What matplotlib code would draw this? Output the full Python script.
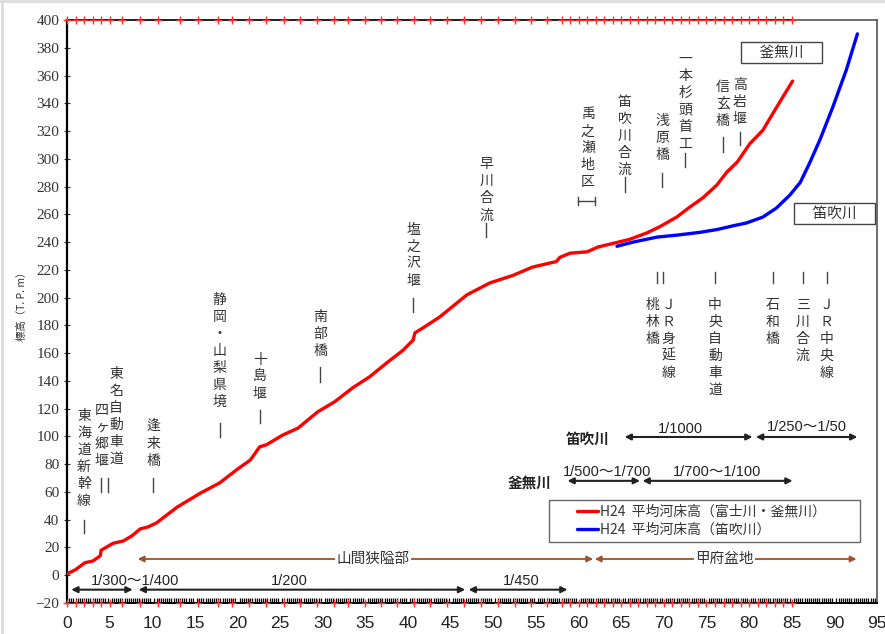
import matplotlib
matplotlib.use("Agg")
import matplotlib.pyplot as plt
from matplotlib.ticker import MultipleLocator
from matplotlib.lines import Line2D
from matplotlib.patches import Rectangle

plt.rcParams['font.family'] = ['Noto Sans CJK JP', 'DejaVu Sans']

# 平均河床高 (距離 km, 標高 T.P.m)
kamanashi_km = [0, 1.0, 2.1, 3.05, 3.9, 4.0, 5.4, 6.6, 7.6, 8.6, 9.5, 10.5, 12.9, 15.6,
                17.9, 19.9, 21.5, 22.6, 23.4, 25.3, 27.1, 29.4, 31.4, 33.5, 35.5, 37.5,
                39.4, 40.6, 40.8, 41.7, 43.7, 46.9, 49.6, 52.3, 54.6, 57.4, 57.8, 59.0,
                61.0, 62.3, 64.0, 66.0, 68.0, 69.5, 71.5, 73.0, 74.6, 76.2, 77.4, 78.6,
                80.1, 81.6, 82.8, 83.9, 85.1]
kamanashi_el = [1, 4, 9, 10.3, 14, 18, 23, 24.7, 28.3, 33.4, 34.8, 37.7, 49, 59,
                66.5, 76, 83, 92.5, 94, 101, 106, 117.7, 125, 135, 143, 153,
                162, 169.5, 174.6, 178, 186, 202, 210.6, 216, 222, 226, 229, 232,
                233, 236.5, 239, 242, 246.6, 251, 258, 265, 272, 281, 290.5, 297.6,
                311, 320.5, 332.8, 344, 356]

fuefuki_km = [64.5, 66.4, 69.2, 71.5, 74.2, 76.2, 78.1, 79.7, 81.6, 83.2, 84.8, 86.0,
              87.1, 88.3, 89.8, 91.4, 92.7]
fuefuki_el = [237, 240, 243.6, 245, 247, 249, 251.7, 253.8, 258, 264.5, 274, 283,
              297, 313.6, 337, 364, 390]

# 測点位置
survey_km = [0, 1, 2, 3, 4, 5, 6.4, 8.6, 10.7, 13.2, 15.4, 17.7, 19.4, 21.3, 23.3, 25.4,
             27.3, 29.3, 31.3, 33.0, 34.9, 36.8, 38.7, 40.7, 42.6, 44.6, 46.6, 48.6,
             50.6, 52.5, 54.4, 56.3, 58, 59, 60, 61, 62, 63, 64, 65, 66, 67, 68, 69,
             70, 71, 72, 73, 74, 75, 76, 77, 78, 79, 80, 81, 82, 83, 84, 85]

# 上段ランドマーク (名称, 距離, 文字列上端の標高)
upper_names = ['東海道新幹線', '四ヶ郷堰', '東名自動車道', '逢来橋', '静岡・山梨県境', '十島堰',
               '南部橋', '塩之沢堰', '早川合流', '禹之瀬地区', '笛吹川合流', '浅原橋',
               '一本杉頭首工', '信玄橋', '高岩堰']
upper_km = [2.0, 4.1, 5.75, 10.1, 17.9, 22.6, 29.7, 40.6, 49.2, 61.1, 65.4, 69.8,
            72.5, 76.9, 78.9]
upper_top = [115, 119, 145, 107, 198, 155, 186, 249, 296, 332, 341, 327, 372, 352, 353]

# 笛吹川側ランドマーク
lower_names = ['桃林橋', 'ＪＲ身延線', '中央自動車道', '石和橋', '三川合流', 'ＪＲ中央線']
lower_km = [68.7, 70.5, 76.0, 82.8, 86.3, 89.1]
lower_top = 195

# 目印の縦線 (距離, 上端, 下端)
mark_km = [2.0, 3.99, 4.8, 10.1, 17.9, 22.6, 29.7, 40.6, 49.2, 65.4, 69.8, 72.5, 76.9, 78.9,
           69.2, 69.9, 76.0, 82.8, 86.3, 89.1]
mark_top = [39.8, 70.1, 70.1, 70.1, 109.7, 119, 150, 199.8, 253.8, 286.9, 289.8, 304, 315.8, 319,
            218.5, 218.5, 218.5, 218.5, 218.5, 218.5]
mark_bottom = [30.4, 60, 60, 60, 99.6, 109.7, 139.5, 189.7, 243.7, 276, 279.8, 294, 305, 310,
               210.6, 210.6, 210.6, 210.6, 210.6, 210.6]

fig = plt.figure(figsize=(8.85, 6.34), dpi=100)
ax = fig.add_axes([67 / 885, 31 / 634, 810 / 885, 583 / 634])

ax.plot(kamanashi_km, kamanashi_el, color='#ff0000', lw=2.4, solid_capstyle='round',
        label='H24  平均河床高（富士川・釜無川）', zorder=5)
ax.plot(fuefuki_km, fuefuki_el, color='#0000ff', lw=2.4, solid_capstyle='round',
        label='H24  平均河床高（笛吹川）', zorder=5)

ax.set_xlim(0, 95)
ax.set_ylim(-20, 400)
ax.yaxis.set_major_locator(MultipleLocator(20))
ax.xaxis.set_major_locator(MultipleLocator(5))
ax.xaxis.set_minor_locator(MultipleLocator(0.25))
ax.tick_params(axis='y', direction='inout', length=5, width=0.8, colors='#333333',
               labelsize=11, pad=3)
ax.tick_params(axis='x', which='major', length=0, pad=9, labelsize=12.5, colors='#222222')
ax.tick_params(axis='x', which='minor', direction='in', length=3.5, width=0.9, color='black')
for lab in ax.get_yticklabels():
    lab.set_family('Liberation Serif')
for lab in ax.get_xticklabels():
    lab.set_family('Liberation Sans')

for side in ('top', 'right'):
    ax.spines[side].set_color('#555555')
    ax.spines[side].set_linewidth(1.2)
ax.spines['left'].set_linewidth(1.6)
ax.spines['bottom'].set_linewidth(1.4)

# 測点の目盛り
ax.plot([0, 85], [400, 400], color='#222222', lw=1.4, clip_on=False, zorder=6)
ax.plot(survey_km, [400] * len(survey_km), '+', color='#ff3030', ms=6, mew=1,
        clip_on=False, zorder=7)
ax.plot(survey_km, [-20] * len(survey_km), '+', color='#ff3030', ms=6, mew=1,
        clip_on=False, zorder=7)

step = 17 / 1.388
jp = dict(fontsize=10, color='#333333', ha='center', va='center')


def vlabel(x, top, text):
    for i, ch in enumerate(text):
        ax.text(x, top - i * step, ch, **jp)


for name, km, top in zip(upper_names, upper_km, upper_top):
    vlabel(km, top, name)
for name, km in zip(lower_names, lower_km):
    vlabel(km, lower_top, name)
for km, t, b in zip(mark_km, mark_top, mark_bottom):
    ax.plot([km, km], [t, b], color='#444444', lw=1)

# 禹之瀬地区の区間
ax.plot([59.9, 61.9], [269.7, 269.7], color='#444444', lw=1)
for km in (59.9, 61.9):
    ax.plot([km, km], [267, 272.4], color='#444444', lw=1)

box = dict(boxstyle='square,pad=0.25', fc='white', ec='#444444', lw=1)
ax.text(83.8, 376.5, '　釜無川　', fontsize=10.5, color='#333333', ha='center', va='center',
        bbox=box)
ax.text(90.0, 260.5, '　笛吹川　', fontsize=10.5, color='#333333', ha='center', va='center',
        bbox=box)


def span(x0, x1, y, color, lw=1.5):
    ax.annotate('', xy=(x0, y), xytext=(x1, y),
                arrowprops=dict(arrowstyle='<|-|>', color=color, lw=lw,
                                mutation_scale=9, shrinkA=0, shrinkB=0))


sans = ['Liberation Sans', 'Noto Sans CJK JP']
dark = '#222222'

# 河床勾配
span(65.4, 80.4, 99.6, dark)
span(80.8, 92.7, 99.6, dark)
span(58.7, 67.2, 68.0, dark)
span(67.5, 85.1, 68.0, dark)
ax.text(61.1, 98.5, '笛吹川', fontsize=10.5, fontweight='bold', color=dark, ha='center',
        va='center')
ax.text(54.3, 66.5, '釜無川', fontsize=10.5, fontweight='bold', color=dark, ha='center',
        va='center')
ax.text(71.9, 105.4, '1/1000', fontsize=10.5, family=sans, color=dark, ha='center', va='center')
ax.text(86.8, 107.0, '1/250～1/50', fontsize=10.5, family=sans, color=dark, ha='center',
        va='center')
ax.text(63.3, 74.4, '1/500～1/700', fontsize=10.5, family=sans, color=dark, ha='center',
        va='center')
ax.text(76.3, 74.4, '1/700～1/100', fontsize=10.5, family=sans, color=dark, ha='center',
        va='center')

span(0.5, 7.7, -10.4, dark)
span(8.4, 46.7, -10.4, dark)
span(47.1, 58.7, -10.4, dark)
ax.text(8.0, -4.2, '1/300～1/400', fontsize=10.5, family=sans, color=dark, ha='center',
        va='center')
ax.text(26.1, -4.2, '1/200', fontsize=10.5, family=sans, color=dark, ha='center', va='center')
ax.text(53.3, -4.2, '1/450', fontsize=10.5, family=sans, color=dark, ha='center', va='center')

# 区間区分
brown = '#a0522d'
span(8.3, 61.7, 11.7, brown, lw=1.3)
span(61.9, 92.6, 11.7, brown, lw=1.3)
ax.text(35.9, 11.7, '山間狭隘部', fontsize=10.5, color='#333333', ha='center', va='center',
        bbox=dict(fc='white', ec='none', pad=1))
ax.text(77.1, 11.7, '甲府盆地', fontsize=10.5, color='#333333', ha='center', va='center',
        bbox=dict(fc='white', ec='none', pad=1))

# 凡例 (枠は別に描く)
ax.add_patch(Rectangle((0.595, 0.105), 0.384, 0.0717, transform=ax.transAxes,
                       fc='white', ec='#666666', lw=1, zorder=8))
leg = ax.legend(loc='center left', bbox_to_anchor=(0.63, 0.1408), frameon=False,
                fontsize=10, handlelength=1.5, handletextpad=0.1, borderpad=0,
                labelspacing=0.3, borderaxespad=0)
leg.set_zorder(9)
for t in leg.get_texts():
    t.set_color('#333333')
for h in leg.legend_handles:
    h.set_linewidth(2.4)

fig.text(22 / 885, 1 - 304 / 634, '標高（T. P. m）', rotation=90, fontsize=7.5,
         color='#333333', ha='center', va='center')

# 外枠
fig.add_artist(Line2D([0, 1], [0.998, 0.998], color='#dddddd', lw=2, transform=fig.transFigure))
fig.add_artist(Line2D([0.002, 0.002], [0, 1], color='#dddddd', lw=2, transform=fig.transFigure))

fig.savefig('out.png', dpi=100)
